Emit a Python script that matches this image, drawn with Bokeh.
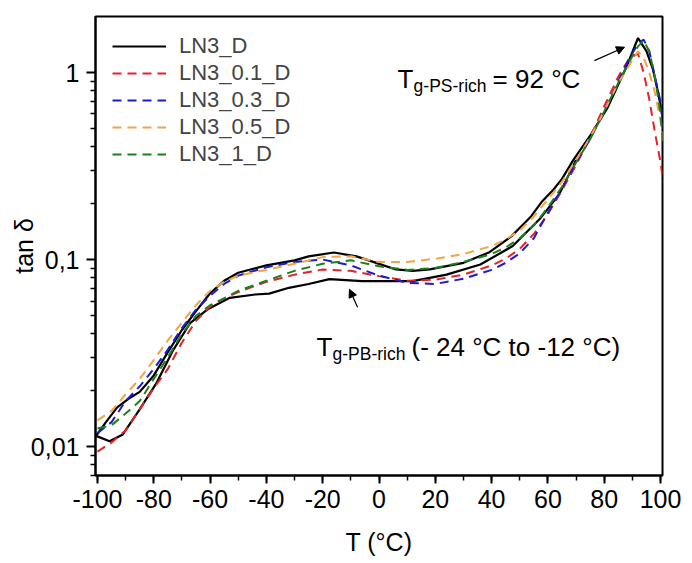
from bokeh.plotting import figure
from bokeh.models import (Range1d, FixedTicker, SingleIntervalTicker, CustomJSTickFormatter,
                          Label, Arrow, NormalHead)
from bokeh.embed import file_html
from bokeh.resources import INLINE

# tan delta vs temperature
temp = [-100, -95, -90, -85, -80, -75, -70, -65, -60, -55, -50, -40, -30, -20, -10, 0,
        10, 20, 30, 40, 45, 50, 55, 60, 65, 70, 75, 80, 85, 89, 92, 94, 96, 98, 100, 101]

ln3_01_d = [0.0094, 0.0105, 0.0122, 0.0158, 0.0205, 0.026, 0.036, 0.047, 0.056, 0.062, 0.067,
            0.076, 0.083, 0.0885, 0.087, 0.0815, 0.077, 0.078, 0.083, 0.093, 0.101, 0.114,
            0.137, 0.175, 0.235, 0.32, 0.45, 0.66, 0.95, 1.2, 1.26, 1.0, 0.72, 0.48, 0.33, 0.26]
ln3_03_d = [0.0118, 0.0135, 0.0175, 0.021, 0.026, 0.033, 0.043, 0.054, 0.064, 0.074, 0.082,
            0.091, 0.097, 0.1, 0.093, 0.082, 0.075, 0.074, 0.079, 0.088, 0.096, 0.108,
            0.13, 0.178, 0.24, 0.33, 0.44, 0.62, 0.9, 1.2, 1.42, 1.5, 1.3, 0.95, 0.7, 0.5]
ln3_05_d = [0.0138, 0.0155, 0.019, 0.023, 0.029, 0.037, 0.046, 0.057, 0.068, 0.076, 0.082,
            0.088, 0.095, 0.103, 0.104, 0.097, 0.097, 0.101, 0.107, 0.118, 0.128, 0.143,
            0.17, 0.21, 0.26, 0.34, 0.45, 0.62, 0.88, 1.1, 1.3, 1.2, 1.0, 0.78, 0.55, 0.42]
ln3_1_d = [0.0125, 0.013, 0.015, 0.0175, 0.023, 0.03, 0.04, 0.05, 0.057, 0.062, 0.068,
           0.077, 0.087, 0.095, 0.099, 0.092, 0.088, 0.09, 0.097, 0.107, 0.116, 0.13,
           0.152, 0.19, 0.245, 0.33, 0.44, 0.62, 0.88, 1.15, 1.38, 1.48, 1.3, 0.95, 0.6, 0.4]

# LN3_D is one loop: lower branch back to -100, then the upper branch up to the peak
ln3_d_t = [70, 64, 57, 47.5, 36, 24, 12, 0, -6, -17.6, -25, -32, -39, -44, -53, -61, -67,
           -73, -79, -85, -91, -95.7, -100.5,
           -97, -93, -89, -85, -80, -75, -70, -65, -60, -55, -50, -45, -40, -30, -25, -16,
           -8, -1, 6, 12, 18, 30, 39, 47, 54, 58, 62, 65, 69, 75, 81, 88, 92, 95, 97.3, 99, 101]
ln3_d_v = [0.34, 0.223, 0.164, 0.118, 0.094, 0.083, 0.0766, 0.0766, 0.0766, 0.0785, 0.074,
           0.0706, 0.0657, 0.065, 0.0624, 0.054, 0.0459, 0.033, 0.0219, 0.0158, 0.0116,
           0.01067, 0.0114,
           0.0135, 0.0162, 0.018, 0.0196, 0.024, 0.032, 0.042, 0.053, 0.066, 0.077, 0.085,
           0.089, 0.093, 0.099, 0.104, 0.109, 0.104, 0.096, 0.0885, 0.087, 0.0885, 0.096,
           0.109, 0.133, 0.17, 0.205, 0.237, 0.27, 0.34, 0.46, 0.64, 1.08, 1.53, 1.3, 1.04,
           0.8, 0.55]

series = [
    ("LN3_0.1_D", ln3_01_d, "#E32229"),
    ("LN3_0.3_D", ln3_03_d, "#1C1CCF"),
    ("LN3_0.5_D", ln3_05_d, "#F3A443"),
    ("LN3_1_D", ln3_1_d, "#1D7F1D"),
]

FONT = "Liberation Sans"

p = figure(width=690, height=561, y_axis_type="log",
           x_range=Range1d(-100.7, 100.7), y_range=Range1d(0.007, 1.993),
           toolbar_location=None, tools="", output_backend="svg",
           min_border_left=95, min_border_right=28, min_border_top=16, min_border_bottom=86)

p.line(ln3_d_t, ln3_d_v, line_color="black", line_width=2.2, legend_label="LN3_D")
for name, vals, col in series:
    p.line(temp, vals, line_color=col, line_width=2, line_dash="9 6", legend_label=name)

p.xgrid.grid_line_color = None
p.ygrid.grid_line_color = None
p.outline_line_color = "black"
p.outline_line_width = 2
p.outline_line_alpha = 1
p.background_fill_color = "white"

p.xaxis.ticker = SingleIntervalTicker(interval=20, num_minor_ticks=2)
p.xaxis.formatter = CustomJSTickFormatter(code="return tick.toFixed(0);")
minor = [k * 10.0 ** e for e in (-3, -2, -1, 0) for k in range(2, 10)]
p.yaxis.ticker = FixedTicker(ticks=[0.01, 0.1, 1], minor_ticks=minor)
p.yaxis.formatter = CustomJSTickFormatter(code="return tick.toString().replace('.', ',');")

for ax in (p.xaxis[0], p.yaxis[0]):
    ax.axis_line_width = 2
    ax.major_tick_line_width = 2
    ax.minor_tick_line_width = 1.5
    ax.major_tick_in = 0
    ax.minor_tick_in = 0
    ax.minor_tick_out = 5
    ax.major_label_text_font = FONT
    ax.major_label_text_font_size = "25px"
    ax.major_label_text_color = "black"
    ax.axis_label_text_font = FONT
    ax.axis_label_text_font_size = "25px"
    ax.axis_label_text_font_style = "normal"
    ax.axis_label_text_color = "black"

p.xaxis.axis_label = "T (°C)"
p.yaxis.axis_label = "tan δ"
p.xaxis.major_tick_out = 8
p.xaxis.major_label_standoff = 6
p.xaxis.axis_label_standoff = 17
p.yaxis.major_tick_out = 9
p.yaxis.major_label_standoff = 7
p.yaxis.axis_label_standoff = -10

leg = p.legend[0]
leg.location = "top_left"
leg.margin = 8
leg.padding = 9
leg.spacing = 1
leg.glyph_width = 54
leg.glyph_height = 26
leg.label_height = 26
leg.label_standoff = 13
leg.label_text_font = FONT
leg.label_text_font_size = "22px"
leg.border_line_alpha = 0
leg.background_fill_alpha = 0

# annotations: main letter, subscript, rest of the text
def sub_label(x, y, sub, rest):
    p.add_layout(Label(x=x, y=y, text="T", text_font=FONT, text_font_size="26px",
                       text_color="black", text_baseline="alphabetic"))
    p.add_layout(Label(x=x, y=y, x_offset=16, y_offset=-7, text=sub, text_font=FONT,
                       text_font_size="17.5px", text_color="black",
                       text_baseline="alphabetic"))
    p.add_layout(Label(x=x, y=y, x_offset=95, text=rest, text_font=FONT,
                       text_font_size="26px", text_color="black",
                       text_baseline="alphabetic"))

sub_label(6.6, 0.924, "g-PS-rich", "= 92 °C")
sub_label(-22.2, 0.0339, "g-PB-rich", "(- 24 °C to -12 °C)")

for x0, y0, x1, y1 in [(76.5, 1.158, 87.2, 1.366), (-7.6, 0.0555, -10.5, 0.0693)]:
    p.add_layout(Arrow(x_start=x0, y_start=y0, x_end=x1, y_end=y1, line_width=1.2,
                       end=NormalHead(size=8, fill_color="black", line_color="black")))

open("out.html", "w").write(file_html(p, INLINE))
